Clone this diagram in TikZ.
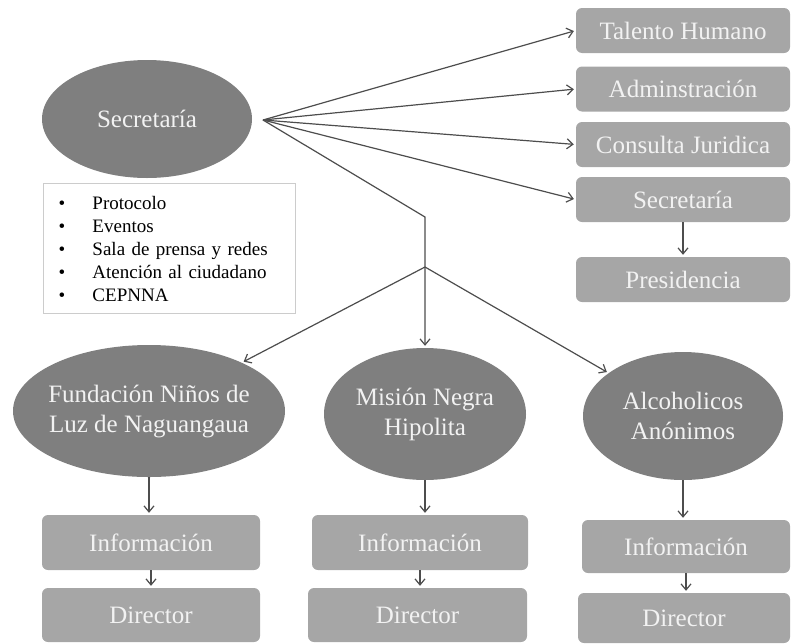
\documentclass[tikz,border=0pt]{standalone}
\usepackage{fontspec}
\setmainfont{Liberation Serif}
\usetikzlibrary{shapes.geometric,arrows.meta}
\definecolor{elipgris}{HTML}{7F7F7F}
\definecolor{cajagris}{HTML}{A6A6A6}
\definecolor{textoclaro}{HTML}{F2F2F2}
\definecolor{lineagris}{HTML}{4D4D4D}
\tikzset{
  elipse/.style={ellipse, fill=elipgris, text=textoclaro, inner xsep=-30pt, inner ysep=0pt,
    align=center, font=\fontsize{25}{30}\selectfont},
  caja/.style={rectangle, rounded corners=6pt, fill=cajagris, text=textoclaro, inner sep=0pt,
    font=\fontsize{25}{30}\selectfont},
  flecha/.style={draw=lineagris, line width=1.2pt, shorten >=2pt,
    -{Straight Barb[length=6pt,width=10pt]}},
}
\begin{document}
\begin{tikzpicture}[x=1pt,y=-1pt]
      \useasboundingbox (0,0) rectangle (791,643);
      \node (sec) [elipse, minimum width=210pt, minimum height=118pt] at (147,119) {Secretaría};
      \node (lista) [draw=gray!40, line width=1pt, anchor=north west, minimum width=252pt,
        minimum height=130pt, text width=222pt, inner xsep=15pt, align=left,
        font=\fontsize{19}{23}\selectfont] at (43,183)
        {\makebox[34pt][l]{\textbullet}Protocolo\\
         \makebox[34pt][l]{\textbullet}Eventos\\
         \makebox[34pt][l]{\textbullet}Sala de prensa y redes\\
         \makebox[34pt][l]{\textbullet}Atención al ciudadano\\
         \makebox[34pt][l]{\textbullet}CEPNNA};
      \begin{scope}[every node/.style={caja, minimum width=214pt, minimum height=45pt}]
        \node (talento) at (683,30.5) {Talento Humano};
        \node (admin) at (683,89) {Adminstración};
        \node (consulta) at (683,144.5) {Consulta Juridica};
        \node (sec_2) at (683,199.5) {Secretaría};
        \node (presid) at (683,279.5) {Presidencia};
      \end{scope}
      \begin{scope}[every node/.style={elipse, minimum height=132pt}]
        \node (fund) [minimum width=272pt] at (149,411) {Fundación Niños de\\Luz de Naguangaua};
        \node (mision) [minimum width=202pt] at (425,414) {Misión Negra\\Hipolita};
        \node (alc) [minimum width=200pt, minimum height=128pt] at (683,416) {Alcoholicos\\Anónimos};
      \end{scope}
      \begin{scope}[every node/.style={caja, minimum height=55pt}]
        \node (info_f) [minimum width=218pt] at (151,542.5) {Información};
        \node (dir_f) [minimum width=218pt, minimum height=54pt] at (151,615) {Director};
        \node (info_m) [minimum width=216pt] at (420,542.5) {Información};
        \node (dir_m) [minimum width=219pt, minimum height=54pt] at (417.5,615) {Director};
        \node (info_a) [minimum width=208pt, minimum height=53pt] at (686,546.5) {Información};
        \node (dir_a) [minimum width=212pt, minimum height=50pt] at (684,618) {Director};
      \end{scope}
      \coordinate (hub) at (263,120);
      \coordinate (codo) at (425,217);
      \coordinate (rama) at (425,267);
      \begin{scope}[every edge/.style={flecha}]
        \path (hub) edge (talento.west);
        \path (hub) edge (admin.west);
        \path (hub) edge (consulta.west);
        \path (hub) edge (sec_2.west);
        \path (sec_2) edge (presid);

        \path (rama) edge (fund);
        \path (rama) edge (alc);

        \path (fund.south) edge (fund.south |- info_f.north);
        \path (info_f) edge (info_f.south |- dir_f.north);
        \path (mision.south) edge (mision.south |- info_m.north);
        \path (info_m.south) edge (info_m.south |- dir_m.north);
        \path (alc.south) edge (alc.south |- info_a.north);
        \path (info_a.south) edge (info_a.south |- dir_a.north);
      \end{scope}
      \draw[flecha] (hub) -- (codo) -- (mision);
    \end{tikzpicture}
\end{document}
